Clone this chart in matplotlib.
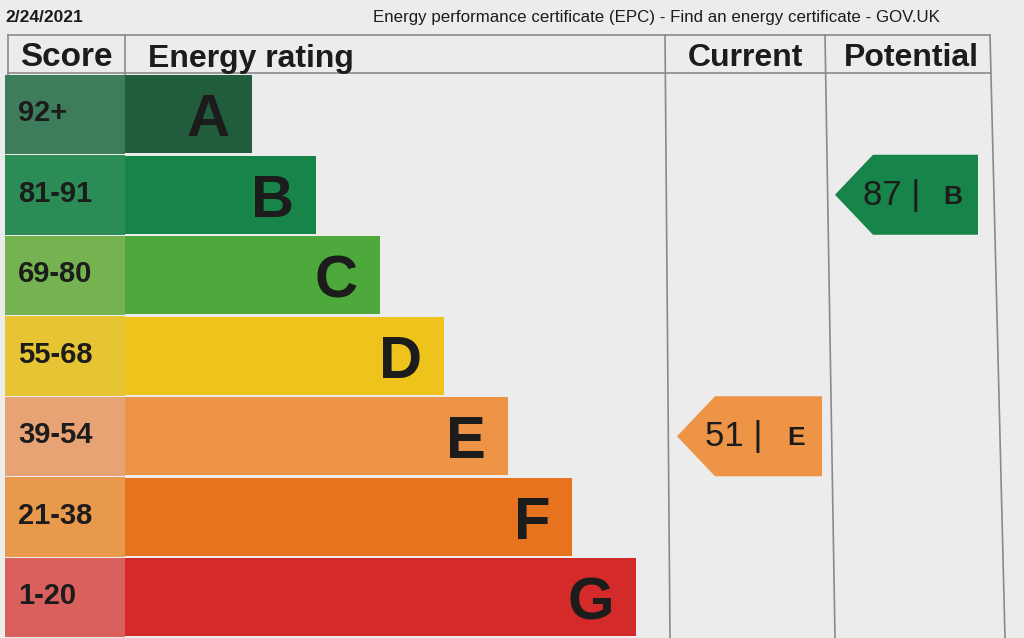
import matplotlib.pyplot as plt
from matplotlib.patches import Polygon

plt.rcParams['font.family'] = ['Liberation Sans', 'DejaVu Sans']

# chart data
bands = ['A', 'B', 'C', 'D', 'E', 'F', 'G']
score_ranges = ['92+', '81-91', '69-80', '55-68', '39-54', '21-38', '1-20']
band_floor = [92, 81, 69, 55, 39, 21, 1]
bar_colors = ['#215d3c', '#178449', '#4ea93c', '#eec41c', '#ee9447', '#e7731f', '#d42a2a']
score_colors = ['#3e7d5b', '#2c8c55', '#74b34f', '#e6c434', '#e8a374', '#e8994c', '#d9605c']
current_score = 51
potential_score = 87
date_text = '2/24/2021'
page_title = 'Energy performance certificate (EPC) - Find an energy certificate - GOV.UK'
headers = ['Score', 'Energy rating', 'Current', 'Potential']

ink = '#1c1c1c'
grid = '#8a8a8a'


def band_of(score):
    for i, lo in enumerate(band_floor):
        if score >= lo:
            return i
    return len(band_floor) - 1


fig = plt.figure(figsize=(10.24, 6.38), dpi=100)
fig.patch.set_facecolor('#ececec')
ax = fig.add_axes([0, 0, 1, 1])
ax.set_facecolor('#ececec')
ax.set_xlim(0, 1024)
ax.set_ylim(638, 0)
ax.axis('off')

# layout (pixel-like units)
row_top = 74
row_h = 80.5
centers = [row_top + row_h * (i + 0.5) for i in range(len(bands))]
bar_left = 125
bar_ends = [252 + 64 * i for i in range(len(bands))]
widths = [e - bar_left for e in bar_ends]

# table lines
ax.plot([8, 990], [35, 35], color=grid, lw=1.2, zorder=1)
ax.plot([8, 990], [73, 73], color=grid, lw=1.2, zorder=1)
ax.plot([8, 8], [35, 74], color=grid, lw=1.2, zorder=1)
ax.plot([125, 125], [35, 74], color=grid, lw=1.2, zorder=1)
ax.plot([665, 670], [35, 638], color=grid, lw=1.2, zorder=1)
ax.plot([825, 835], [35, 638], color=grid, lw=1.2, zorder=1)
ax.plot([990, 1005], [35, 638], color=grid, lw=1.2, zorder=1)

# score column and rating bars
ax.barh(centers, 120, left=5, height=79.5, color=score_colors, zorder=2)
ax.barh(centers, widths, left=bar_left, height=78, color=bar_colors, zorder=3)

for i in range(len(bands)):
    ax.text(18, centers[i] + 7, score_ranges[i], fontsize=21, fontweight='bold',
            color=ink, ha='left', va='baseline', zorder=4)
    ax.text(bar_ends[i] - 22, centers[i] + 22, bands[i], fontsize=43, fontweight='bold',
            color=ink, ha='right', va='baseline', zorder=4)

# headers
ax.text(66, 66, headers[0], fontsize=24, fontweight='bold', color=ink, ha='center', va='baseline')
ax.text(148, 67, headers[1], fontsize=23, fontweight='bold', color=ink, ha='left', va='baseline')
ax.text(745, 66, headers[2], fontsize=23, fontweight='bold', color=ink, ha='center', va='baseline')
ax.text(911, 66, headers[3], fontsize=23, fontweight='bold', color=ink, ha='center', va='baseline')

# page header
ax.text(5, 22, date_text, fontsize=12.5, fontweight='bold', color=ink, ha='left', va='baseline')
ax.text(373, 22, page_title, fontsize=12.2, color=ink, ha='left', va='baseline')


def draw_arrow(score, x_tip, x_right):
    i = band_of(score)
    y = centers[i]
    h = 80
    body = x_tip + 38
    pts = [(x_tip, y), (body, y - h / 2), (x_right, y - h / 2), (x_right, y + h / 2), (body, y + h / 2)]
    ax.add_patch(Polygon(pts, closed=True, facecolor=bar_colors[i], edgecolor='none', zorder=3))
    ax.text(x_tip + 28, y + 10, f'{score} |', fontsize=25, color=ink, ha='left', va='baseline', zorder=4)
    ax.text(x_right - 35, y + 9, bands[i], fontsize=19, fontweight='bold', color=ink,
            ha='left', va='baseline', zorder=4)


draw_arrow(current_score, 677, 822)
draw_arrow(potential_score, 835, 978)

fig.savefig('out.png', dpi=100, facecolor=fig.get_facecolor())
